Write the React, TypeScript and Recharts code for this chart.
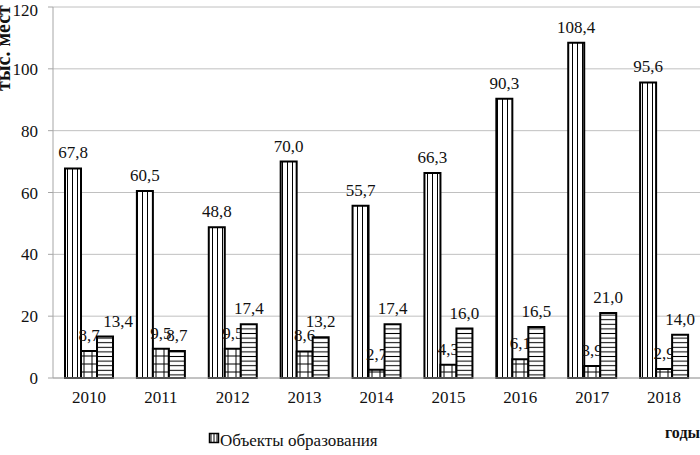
import React from 'react';
import { BarChart, Bar, XAxis, YAxis, CartesianGrid, Rectangle } from 'recharts';

const years = ['2010', '2011', '2012', '2013', '2014', '2015', '2016', '2017', '2018'];
const education = [67.8, 60.5, 48.8, 70.0, 55.7, 66.3, 90.3, 108.4, 95.6];
const seriesB = [8.7, 9.5, 9.5, 8.6, 2.7, 4.3, 6.1, 3.9, 2.9];
const seriesC = [13.4, 8.7, 17.4, 13.2, 17.4, 16.0, 16.5, 21.0, 14.0];
const yTicks = [0, 20, 40, 60, 80, 100, 120];
const boundaryTicks = [0, 1, 2, 3, 4, 5, 6, 7, 8, 9];

const data = years.map((y, i) => ({ year: y, a: education[i], b: seriesB[i], c: seriesC[i] }));

const FONT = '"Liberation Serif", "Times New Roman", serif';

const fmt = (v: number) => v.toFixed(1).replace('.', ',');

// Bar shape that draws the rectangle and its value label in the same layer,
// so later series cover earlier labels (as in the reference).
const makeShape = (key: string, shiftFirst: number) => (props: any) => {
  const { x, y, width, height, fill, stroke, strokeWidth, payload, index } = props;
  const value = payload ? payload[key] : props.value;
  const dx = index === 0 ? shiftFirst : 0;
  return (
    <g>
      <Rectangle x={x} y={y} width={width} height={height} fill={fill} stroke={stroke} strokeWidth={strokeWidth} />
      <text
        x={Number(x) + Number(width) / 2 + dx}
        y={Number(y) - 10}
        textAnchor="middle"
        fontFamily={FONT}
        fontSize={17}
        fill="#111"
      >
        {fmt(Number(value))}
      </text>
    </g>
  );
};

export default function App() {
  return (
    <div style={{ position: 'absolute', left: 0, top: 0, width: 700, height: 455, background: '#fff', overflow: 'hidden' }}>
      <BarChart
        width={700}
        height={455}
        data={data}
        margin={{ top: 7, right: 0, left: 0, bottom: 47 }}
        barGap={0}
        barSize={16}
      >
        <defs>
          <pattern id="pVert" patternUnits="userSpaceOnUse" width="5" height="10">
            <rect x="0" y="0" width="5" height="10" fill="#fff" />
            <line x1="2.5" y1="0" x2="2.5" y2="10" stroke="#000" strokeWidth="1" />
          </pattern>
          <pattern id="pGrid" patternUnits="userSpaceOnUse" width="8" height="8">
            <rect x="0" y="0" width="8" height="8" fill="#fff" />
            <line x1="4" y1="0" x2="4" y2="8" stroke="#000" strokeWidth="1" />
            <line x1="0" y1="4" x2="8" y2="4" stroke="#000" strokeWidth="1" />
          </pattern>
          <pattern id="pHoriz" patternUnits="userSpaceOnUse" width="10" height="4.6">
            <rect x="0" y="0" width="10" height="4.6" fill="#fff" />
            <line x1="0" y1="2.3" x2="10" y2="2.3" stroke="#000" strokeWidth="1" />
          </pattern>
        </defs>
        <CartesianGrid vertical={false} stroke="#c0c0c0" strokeWidth={1} />
        <XAxis
          xAxisId="bounds"
          type="number"
          domain={[0, 9]}
          ticks={boundaryTicks}
          height={0}
          axisLine={false}
          tickLine={{ stroke: '#a6a6a6' }}
          tickSize={5}
          tickFormatter={() => ''}
          allowDataOverflow
        />
        <XAxis
          dataKey="year"
          height={30}
          axisLine={{ stroke: '#a6a6a6' }}
          tickLine={false}
          tickSize={5}
          tickMargin={8}
          tick={{ fontFamily: FONT, fontSize: 17, fill: '#111' }}
        />
        <YAxis
          width={53}
          domain={[0, 120]}
          ticks={yTicks}
          axisLine={{ stroke: '#a6a6a6' }}
          tickLine={{ stroke: '#a6a6a6' }}
          tickSize={5}
          tickMargin={10}
          tick={{ fontFamily: FONT, fontSize: 17, fill: '#111' }}
        />
        <Bar dataKey="a" fill="url(#pVert)" stroke="#000" strokeWidth={2} isAnimationActive={false} shape={makeShape('a', 0)} />
        <Bar dataKey="b" fill="url(#pGrid)" stroke="#000" strokeWidth={2} isAnimationActive={false} shape={makeShape('b', 0)} />
        <Bar dataKey="c" fill="url(#pHoriz)" stroke="#000" strokeWidth={2} isAnimationActive={false} shape={makeShape('c', 13)} />
      </BarChart>
      <svg width={700} height={455} style={{ position: 'absolute', left: 0, top: 0, pointerEvents: 'none' }}>
        <defs>
          <pattern id="legVert" patternUnits="userSpaceOnUse" width="3" height="10" x="209.5">
            <rect x="0" y="0" width="3" height="10" fill="#fff" />
            <line x1="1.5" y1="0" x2="1.5" y2="10" stroke="#000" strokeWidth="1" />
          </pattern>
        </defs>
        <text
          transform="translate(10, 48) rotate(-90)"
          textAnchor="middle"
          fontFamily={FONT}
          fontSize={20}
          fontWeight="bold"
          fill="#111"
        >
          тыс. мест
        </text>
        <text x={700} y={438} textAnchor="end" fontFamily={FONT} fontSize={16} fontWeight="bold" fill="#111">
          годы
        </text>
        <rect x={209.5} y={433.5} width={9} height={9} fill="url(#legVert)" stroke="#000" strokeWidth={1.5} />
        <text x={220} y={446} fontFamily={FONT} fontSize={17} fill="#111">
          Объекты образования
        </text>
      </svg>
    </div>
  );
}
